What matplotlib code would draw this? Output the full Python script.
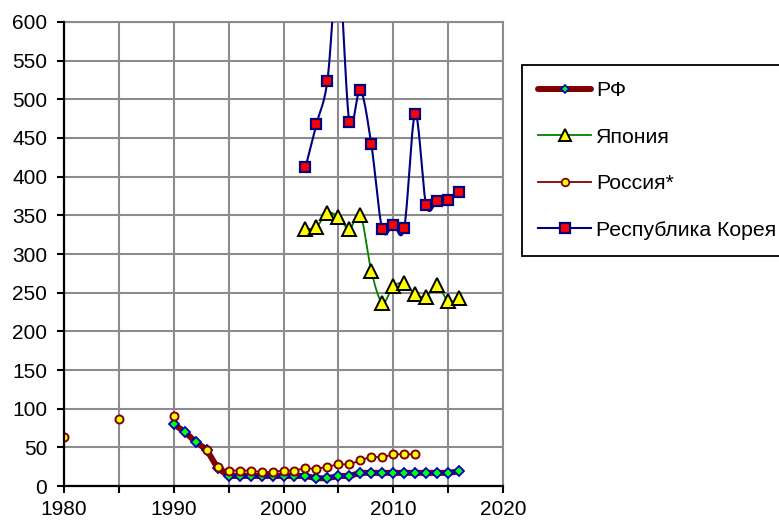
import matplotlib

matplotlib.use("Agg")

import numpy as np
import matplotlib.pyplot as plt
from matplotlib.ticker import MultipleLocator, FuncFormatter

plt.rcParams["font.family"] = ["Liberation Sans", "DejaVu Sans"]

# --- data ---
rf_years = list(range(1990, 2017))
rf_vals = [80, 70, 57, 47, 23, 13, 13, 13, 13, 13, 13, 13, 13, 10, 10, 13, 13,
           17, 17, 17, 17, 17, 17, 17, 17, 17, 19]

japan_years = list(range(2002, 2017))
japan_vals = [332, 335, 353, 348, 332, 351, 278, 237, 258, 262, 248, 245, 260, 239, 243]

# gaps (None) between isolated early estimates
russia_years = [1980, 1981, 1985, 1986, 1990, 1991] + list(range(1993, 2013))
russia_vals = [63, None, 87, None, 90, None, 47, 24, 20, 20, 20, 18, 18, 20, 20, 23, 22,
               25, 28, 28, 33, 38, 37, 41, 41, 41]

korea_years = list(range(2002, 2017))
korea_vals = [412, 468, 524, 670, 471, 512, 442, 332, 337, 334, 481, 363, 368, 370, 380]


def smooth(xs, ys, n=20):
    # excel-like smoothed line (catmull-rom as cubic bezier)
    p = np.column_stack([xs, ys]).astype(float)
    pts = []
    for i in range(len(p) - 1):
        p0 = p[i - 1] if i > 0 else p[i]
        p3 = p[i + 2] if i + 2 < len(p) else p[i + 1]
        c1 = p[i] + (p[i + 1] - p0) / 6
        c2 = p[i + 1] - (p3 - p[i]) / 6
        t = np.linspace(0, 1, n)[:, None]
        seg = ((1 - t) ** 3 * p[i] + 3 * (1 - t) ** 2 * t * c1
               + 3 * (1 - t) * t ** 2 * c2 + t ** 3 * p[i + 1])
        pts.append(seg if i == 0 else seg[1:])
    pts = np.vstack(pts)
    return pts[:, 0], pts[:, 1]


fig = plt.figure(figsize=(7.79, 5.2), dpi=100)
ax = fig.add_axes([64 / 779, 1 - 486 / 520, (503 - 64) / 779, (486 - 22) / 520])

# РФ
ax.plot(rf_years, rf_vals, color="#800000", lw=4.3, solid_capstyle="round", zorder=3)
ax.plot(rf_years, rf_vals, ls="none", marker="D", ms=5.2, mfc="#00ff00",
        mec="#0000c0", mew=1.3, zorder=4)
rf_h, = ax.plot([], [], color="#800000", lw=4.3, solid_capstyle="round", marker="D",
                ms=4.5, mfc="#00ff00", mec="#0000c0", mew=1.2)

# Япония
sx, sy = smooth(japan_years, japan_vals)
ax.plot(sx, sy, color="#008000", lw=1.3, zorder=3)
ax.plot(japan_years, japan_vals, ls="none", marker="^", ms=10, mfc="#ffff00",
        mec="black", mew=1.4, zorder=5)
jp_h, = ax.plot([], [], color="#008000", lw=1.3, marker="^", ms=9, mfc="#ffff00",
                mec="black", mew=1.4)

# Россия*
ru_y = np.array([np.nan if v is None else v for v in russia_vals], dtype=float)
ax.plot(russia_years, ru_y, color="#800000", lw=1.3, marker="o", ms=5.8,
        mfc="#ffff00", mec="#800000", mew=1.4, zorder=6)
ru_h, = ax.plot([], [], color="#800000", lw=1.3, marker="o", ms=5.5,
                mfc="#ffff00", mec="#800000", mew=1.3)

# Республика Корея
sx, sy = smooth(korea_years, korea_vals)
ax.plot(sx, sy, color="#000080", lw=1.5, zorder=3)
ax.plot(korea_years, korea_vals, ls="none", marker="s", ms=7.5, mfc="#ff0000",
        mec="#000080", mew=1.6, zorder=7)
kr_h, = ax.plot([], [], color="#000080", lw=1.5, marker="s", ms=7.5, mfc="#ff0000",
                mec="#000080", mew=1.6)

ax.set_xlim(1980, 2020)
ax.set_ylim(0, 600)
ax.xaxis.set_major_locator(MultipleLocator(5))
ax.xaxis.set_major_formatter(FuncFormatter(lambda v, p: f"{int(v)}" if int(v) % 10 == 0 else ""))
ax.yaxis.set_major_locator(MultipleLocator(50))
ax.grid(True, color="#8c8c8c", lw=1.5)
ax.set_axisbelow(True)
for side in ["top", "right"]:
    ax.spines[side].set_color("#8c8c8c")
    ax.spines[side].set_linewidth(1.5)
for side in ["left", "bottom"]:
    ax.spines[side].set_color("black")
    ax.spines[side].set_linewidth(1.6)
    ax.spines[side].set_zorder(8)
ax.tick_params(axis="both", direction="out", length=5, width=1.5, labelsize=15)
ax.tick_params(axis="x", pad=5)
ax.tick_params(axis="y", pad=7)

leg = fig.legend([rf_h, jp_h, ru_h, kr_h],
                 ["РФ", "Япония", "Россия*", "Республика Корея"],
                 loc="upper left", bbox_to_anchor=(522 / 779, 1 - 65 / 520),
                 fontsize=15.3, frameon=True, fancybox=False, framealpha=1,
                 edgecolor="black", labelspacing=1.29, borderpad=0.77,
                 handlelength=2.5, handletextpad=0.22, borderaxespad=0)
leg.get_frame().set_linewidth(1.3)

fig.savefig("out.png", dpi=100)
